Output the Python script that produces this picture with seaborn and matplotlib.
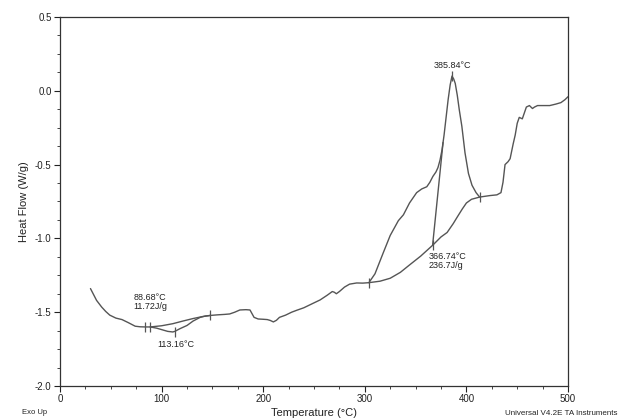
import numpy as np
import pandas as pd
import matplotlib
matplotlib.use("Agg")
import matplotlib.pyplot as plt
import seaborn as sns
from matplotlib.ticker import MultipleLocator

# DSC heat flow trace
temp = [30, 33, 36, 41, 45, 49, 55, 61, 67, 74, 79, 84, 88.7, 95, 100, 106, 111, 113,
        118, 125, 131, 138, 143, 148, 155, 162, 167, 172, 177, 183, 187, 189, 191,
        195, 200, 204, 207, 210, 213, 216, 222, 228, 233, 240, 249, 256, 263, 268,
        270, 272, 275, 280, 285, 292, 298, 304, 310, 318, 325, 333, 338, 344, 351,
        356, 361, 364, 367, 370, 372, 374, 376, 378, 380, 382, 384, 385.8, 387.5,
        389, 391, 393, 395.5, 398.6, 402, 405.5, 409.5, 413, 418, 423, 430, 434,
        436, 438, 441, 443, 446, 448, 450, 452, 455, 457, 459, 462, 465, 467, 470,
        476, 482, 488, 493, 497, 500]
heat_flow = [-1.34, -1.38, -1.42, -1.465, -1.495, -1.52, -1.54, -1.55, -1.57, -1.595,
             -1.599, -1.60, -1.60, -1.608, -1.618, -1.630, -1.634, -1.630, -1.612,
             -1.590, -1.560, -1.535, -1.526, -1.522, -1.518, -1.515, -1.512, -1.50,
             -1.485, -1.483, -1.485, -1.51, -1.535, -1.546, -1.548, -1.55, -1.556,
             -1.566, -1.555, -1.535, -1.52, -1.50, -1.487, -1.47, -1.44, -1.417,
             -1.385, -1.36, -1.365, -1.375, -1.36, -1.33, -1.31, -1.302, -1.303,
             -1.30, -1.24, -1.10, -0.98, -0.88, -0.84, -0.76, -0.69, -0.665, -0.65,
             -0.62, -0.58, -0.55, -0.52, -0.47, -0.40, -0.30, -0.18, -0.06, 0.04,
             0.10, 0.08, 0.05, -0.03, -0.13, -0.24, -0.42, -0.56, -0.64, -0.69,
             -0.72, -0.715, -0.71, -0.705, -0.69, -0.62, -0.50, -0.48, -0.46, -0.36,
             -0.30, -0.22, -0.18, -0.19, -0.15, -0.11, -0.10, -0.12, -0.11, -0.10,
             -0.10, -0.10, -0.09, -0.08, -0.06, -0.04]

# integration baselines
base1_t = [88.7, 100, 111, 121, 131, 140, 148]
base1_hf = [-1.60, -1.592, -1.578, -1.56, -1.543, -1.53, -1.522]
base2_t = [304, 315, 325, 335, 344, 355, 367, 375, 381, 387, 391, 396, 400, 405, 413]
base2_hf = [-1.30, -1.29, -1.27, -1.23, -1.18, -1.12, -1.045, -0.99, -0.96, -0.90,
            -0.855, -0.80, -0.76, -0.735, -0.72]

# onset tangent of the big peak
tan_t = [366.74, 377]
tan_hf = [-1.045, -0.35]

# analysis cursors
mark_t = [84, 88.68, 113.16, 148, 304, 366.74, 385.84, 413]
mark_hf = [-1.60, -1.60, -1.632, -1.522, -1.30, -1.045, 0.10, -0.72]

sns.set_style("ticks")
plt.rcParams["font.family"] = ["Liberation Sans", "DejaVu Sans"]

line_col = "#555555"
fig = plt.figure(figsize=(6.21, 4.19), dpi=100)
ax = fig.add_axes([0.0966, 0.0788, 0.8181, 0.8806])

df = pd.DataFrame({"Temperature": temp, "Heat Flow": heat_flow})
sns.lineplot(data=df, x="Temperature", y="Heat Flow", ax=ax, color=line_col,
             linewidth=1.0, sort=False, estimator=None)
sns.lineplot(x=base1_t, y=base1_hf, ax=ax, color=line_col, linewidth=1.0,
             sort=False, estimator=None)
sns.lineplot(x=base2_t, y=base2_hf, ax=ax, color=line_col, linewidth=1.0,
             sort=False, estimator=None)
sns.lineplot(x=tan_t, y=tan_hf, ax=ax, color=line_col, linewidth=1.0,
             sort=False, estimator=None)
ax.plot(mark_t, mark_hf, linestyle="none", marker="|", markersize=7,
        markeredgewidth=0.9, color=line_col)

ax.set_xlim(0, 500)
ax.set_ylim(-2.0, 0.5)
ax.xaxis.set_major_locator(MultipleLocator(100))
ax.xaxis.set_minor_locator(MultipleLocator(25))
ax.yaxis.set_major_locator(MultipleLocator(0.5))
ax.yaxis.set_minor_locator(MultipleLocator(0.125))
ax.yaxis.set_major_formatter(matplotlib.ticker.FormatStrFormatter("%.1f"))
ax.tick_params(which="major", length=4, width=0.8, labelsize=7, colors="#222222", pad=2)
ax.tick_params(which="minor", length=2.5, width=0.7, colors="#444444")
for s in ax.spines.values():
    s.set_linewidth(0.9)
    s.set_color("#333333")
    s.set_visible(True)

ax.set_xlabel("Temperature (°C)", fontsize=8, labelpad=3, color="#222222")
ax.set_ylabel("Heat Flow (W/g)", fontsize=8, labelpad=4, color="#222222")

txt = dict(fontsize=6.5, color="#222222")
ax.text(385.84, 0.14, "385.84°C", ha="center", va="bottom", **txt)
ax.text(363, -1.09, "366.74°C\n236.7J/g", ha="left", va="top", linespacing=1.0, **txt)
ax.text(72, -1.49, "88.68°C\n11.72J/g", ha="left", va="bottom", linespacing=1.0, **txt)
ax.text(96, -1.69, "113.16°C", ha="left", va="top", **txt)

fig.text(22 / 621, 1 - 412 / 419, "Exo Up", fontsize=5.5, ha="left", va="center", color="#222222")
fig.text(505 / 621, 1 - 413 / 419, "Universal V4.2E TA Instruments", fontsize=5.8,
         ha="left", va="center", color="#222222")

fig.savefig("out.png", dpi=100)
